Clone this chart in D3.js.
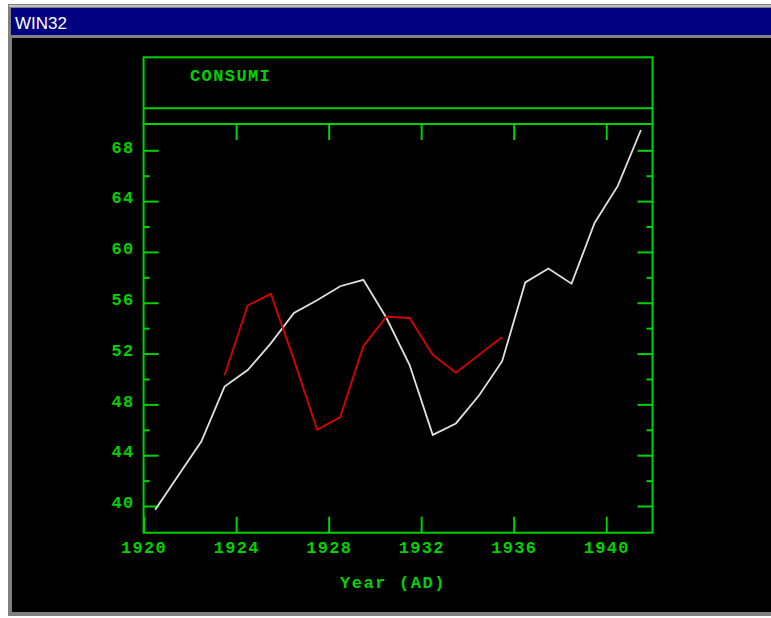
<!DOCTYPE html>
<html>
<head>
<meta charset="utf-8">
<script src="https://cdn.jsdelivr.net/npm/d3@7"></script>
<style>
  body { margin: 0; background: #fff; }
  text { font-family: "Liberation Mono", "DejaVu Sans Mono", monospace; }
</style>
</head>
<body>
<div id="chart-area"></div>
<script>
// data (values sit at mid-year)
const yearsWhite = [1920.5, 1921.5, 1922.5, 1923.5, 1924.5, 1925.5, 1926.5, 1927.5, 1928.5, 1929.5, 1930.5,
  1931.5, 1932.5, 1933.5, 1934.5, 1935.5, 1936.5, 1937.5, 1938.5, 1939.5, 1940.5, 1941.5]
const valuesWhite = [39.7, 42.4, 45.1, 49.4, 50.7, 52.8, 55.2, 56.2, 57.3, 57.8, 54.8,
  51.1, 45.6, 46.5, 48.7, 51.4, 57.6, 58.7, 57.5, 62.3, 65.2, 69.6]

const yearsRed = [1923.5, 1924.5, 1925.5, 1926.5, 1927.5, 1928.5, 1929.5, 1930.5, 1931.5, 1932.5, 1933.5, 1934.5, 1935.5]
const valuesRed = [50.3, 55.8, 56.7, 51.5, 46.0, 47.0, 52.6, 54.9, 54.8, 51.9, 50.5, 51.9, 53.3]

const xTicks = [1920, 1924, 1928, 1932, 1936, 1940]
const yTicks = [40, 44, 48, 52, 56, 60, 64, 68]
const yMinorTicks = [42, 46, 50, 54, 58, 62, 66]

const W = 771, H = 618
const GREEN = "#00d200"
const PLOT = {LEFT: 143.6, RIGHT: 652.5, TOP: 124, BOTTOM: 532.7}
const BOX_TOP = 57.3, SEP_Y = 108.3

const svg = d3.select("#chart-area").append("svg")
  .attr("width", W)
  .attr("height", H)
  .style("display", "block")

// window chrome
svg.append("rect").attr("x", 8).attr("y", 4).attr("width", W - 8).attr("height", 612).attr("fill", "#808080")
svg.append("rect").attr("x", 9).attr("y", 5).attr("width", W - 9).attr("height", 2).attr("fill", "#c0c0c0")
svg.append("rect").attr("x", 11).attr("y", 8).attr("width", W - 11).attr("height", 27).attr("fill", "#000080")
svg.append("text")
  .attr("x", 15).attr("y", 29)
  .attr("fill", "#fff")
  .style("font-family", "'Liberation Sans', Arial, sans-serif")
  .attr("font-size", "17px")
  .text("WIN32")
svg.append("rect").attr("x", 12).attr("y", 38).attr("width", W - 12).attr("height", 574).attr("fill", "#000")

const x = d3.scaleLinear().domain([1920, 1942]).range([PLOT.LEFT, PLOT.RIGHT])
const y = d3.scaleLinear().domain([37.9, 70.07]).range([PLOT.BOTTOM, PLOT.TOP])

const g = svg.append("g")

// title box
g.append("rect")
  .attr("x", PLOT.LEFT).attr("y", BOX_TOP)
  .attr("width", PLOT.RIGHT - PLOT.LEFT).attr("height", PLOT.TOP - BOX_TOP)
  .attr("fill", "none").attr("stroke", GREEN).attr("stroke-width", 2)
g.append("line")
  .attr("x1", PLOT.LEFT).attr("x2", PLOT.RIGHT)
  .attr("y1", SEP_Y).attr("y2", SEP_Y)
  .attr("stroke", GREEN).attr("stroke-width", 2)
g.append("text")
  .attr("x", 190).attr("y", 80.5)
  .attr("fill", GREEN)
  .attr("font-size", "17px")
  .attr("font-weight", "bold")
  .attr("letter-spacing", "1.4px")
  .text("CONSUMI")

// axes (ticks point inwards)
function styleAxis(sel) {
  sel.select(".domain").remove()
  sel.selectAll("line").attr("stroke", GREEN).attr("stroke-width", 2)
  sel.selectAll("text")
    .attr("fill", GREEN)
    .attr("font-size", "17px")
    .attr("font-weight", "bold")
    .attr("letter-spacing", "1.3px")
    .style("font-family", "'Liberation Mono', monospace")
}

g.append("g")
  .attr("transform", `translate(${PLOT.LEFT},0)`)
  .call(d3.axisLeft(y).tickValues(yTicks).tickSizeInner(-15).tickSizeOuter(0).tickPadding(9).tickFormat(d3.format("d")))
  .call(styleAxis)
  .call(a => a.selectAll("text").attr("dy", "0.1em"))

g.append("g")
  .attr("transform", `translate(${PLOT.LEFT},0)`)
  .call(d3.axisLeft(y).tickValues(yMinorTicks).tickSizeInner(-6).tickSizeOuter(0).tickFormat(""))
  .call(styleAxis)

g.append("g")
  .attr("transform", `translate(${PLOT.RIGHT},0)`)
  .call(d3.axisRight(y).tickValues(yTicks).tickSizeInner(-15).tickSizeOuter(0).tickFormat(""))
  .call(styleAxis)

g.append("g")
  .attr("transform", `translate(${PLOT.RIGHT},0)`)
  .call(d3.axisRight(y).tickValues(yMinorTicks).tickSizeInner(-6).tickSizeOuter(0).tickFormat(""))
  .call(styleAxis)

g.append("g")
  .attr("transform", `translate(0,${PLOT.BOTTOM})`)
  .call(d3.axisBottom(x).tickValues(xTicks).tickSizeInner(-16).tickSizeOuter(0).tickPadding(8).tickFormat(d3.format("d")))
  .call(styleAxis)

g.append("g")
  .attr("transform", `translate(0,${PLOT.TOP})`)
  .call(d3.axisTop(x).tickValues(xTicks.slice(1)).tickSizeInner(-16).tickSizeOuter(0).tickFormat(""))
  .call(styleAxis)

// plot frame
g.append("rect")
  .attr("x", PLOT.LEFT).attr("y", PLOT.TOP)
  .attr("width", PLOT.RIGHT - PLOT.LEFT).attr("height", PLOT.BOTTOM - PLOT.TOP)
  .attr("fill", "none").attr("stroke", GREEN).attr("stroke-width", 2)

// X label
g.append("text")
  .attr("x", 393)
  .attr("y", 588)
  .attr("fill", GREEN)
  .attr("font-size", "17px")
  .attr("font-weight", "bold")
  .attr("letter-spacing", "1.6px")
  .attr("text-anchor", "middle")
  .text("Year (AD)")

// series
const line = d3.line()
  .x(d => x(d[0]))
  .y(d => y(d[1]))

g.append("path")
  .datum(d3.zip(yearsWhite, valuesWhite))
  .attr("d", line)
  .attr("fill", "none")
  .attr("stroke", "#e0e0e0")
  .attr("stroke-width", 1.8)

g.append("path")
  .datum(d3.zip(yearsRed, valuesRed))
  .attr("d", line)
  .attr("fill", "none")
  .attr("stroke", "#dd0000")
  .attr("stroke-width", 1.8)
</script>
</body>
</html>
